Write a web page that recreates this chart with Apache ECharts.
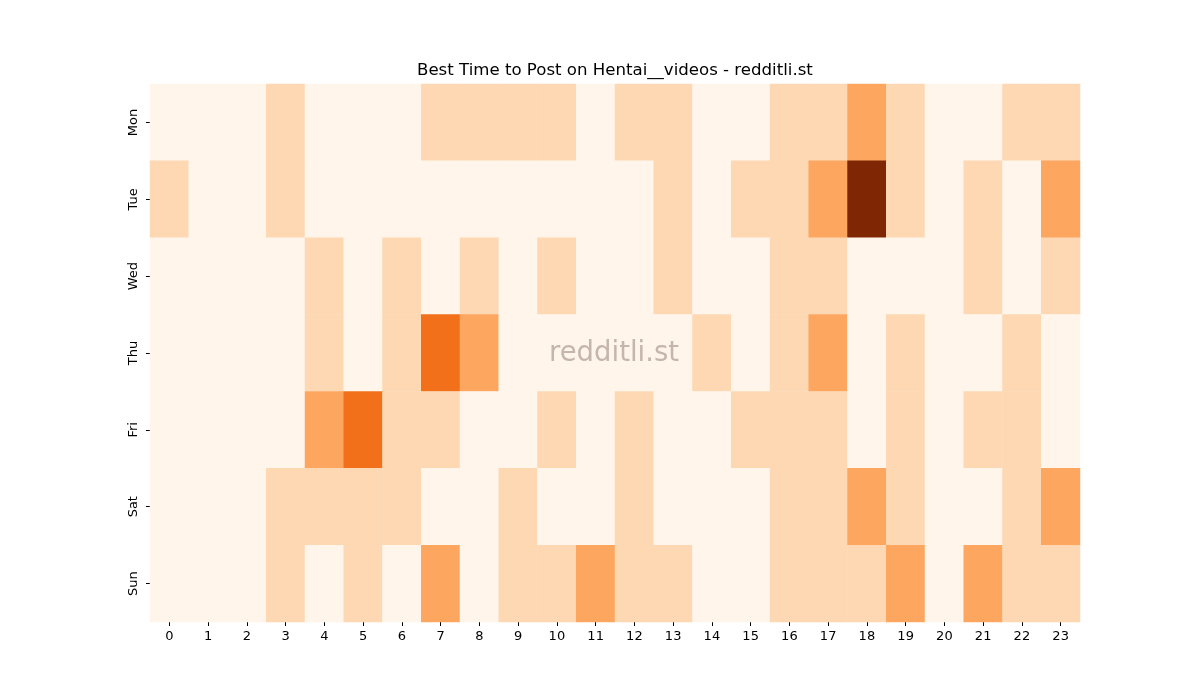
<!DOCTYPE html>
<html>
<head>
<meta charset="utf-8">
<script src="https://cdn.jsdelivr.net/npm/echarts@6/dist/echarts.min.js"></script>
<style>html,body{margin:0;padding:0;background:#fff}#c{width:1200px;height:700px}</style>
</head>
<body>
<div id="c"></div>
<script>
const hours = ['0','1','2','3','4','5','6','7','8','9','10','11','12','13','14','15','16','17','18','19','20','21','22','23'];
const days = ['Mon','Tue','Wed','Thu','Fri','Sat','Sun'];
const mon = [0,0,0,1,0,0,0,1,1,1,1,0,1,1,0,0,1,1,2,1,0,0,1,1];
const tue = [1,0,0,1,0,0,0,0,0,0,0,0,0,1,0,1,1,2,4,1,0,1,0,2];
const wed = [0,0,0,0,1,0,1,0,1,0,1,0,0,1,0,0,1,1,0,0,0,1,0,1];
const thu = [0,0,0,0,1,0,1,3,2,0,0,0,0,0,1,0,1,2,0,1,0,0,1,0];
const fri = [0,0,0,0,2,3,1,1,0,0,1,0,1,0,0,1,1,1,0,1,0,1,1,0];
const sat = [0,0,0,1,1,1,1,0,0,1,0,0,1,0,0,0,1,1,2,1,0,0,1,2];
const sun = [0,0,0,1,0,1,0,2,0,1,1,2,1,1,0,0,1,1,1,2,0,2,1,1];
const rows = [mon, tue, wed, thu, fri, sat, sun];
const levelColors = ['#fff5eb', '#fdd8b3', '#fda660', '#f3701b', '#7f2704'];

const data = [];
rows.forEach((r, yi) => r.forEach((v, xi) => data.push([xi, yi, v])));

const font = 'DejaVu Sans';
const chart = echarts.init(document.getElementById('c'), null, {renderer: 'canvas'});
chart.setOption({
  animation: false,
  backgroundColor: '#fff',
  title: {
    text: 'Best Time to Post on Hentai__videos - redditli.st',
    left: 412, top: 57,
    textStyle: {fontFamily: font, fontSize: 16.6, fontWeight: 'normal', color: '#000'}
  },
  grid: {left: 150, right: 120, top: 84, bottom: 78},
  xAxis: {
    type: 'category', data: hours,
    axisLine: {show: false},
    axisTick: {show: true, alignWithLabel: true, length: 4, lineStyle: {color: '#000'}},
    axisLabel: {fontFamily: font, fontSize: 13, color: '#000', margin: 8},
    splitLine: {show: false}
  },
  yAxis: {
    type: 'category', data: days, inverse: true,
    axisLine: {show: false},
    axisTick: {show: true, alignWithLabel: true, length: 4, lineStyle: {color: '#000'}},
    axisLabel: {fontFamily: font, fontSize: 13, color: '#000', rotate: 90, margin: 10},
    splitLine: {show: false}
  },
  visualMap: {
    show: false, type: 'piecewise', dimension: 2,
    pieces: levelColors.map((c, i) => ({value: i, color: c}))
  },
  graphic: [{
    type: 'text', left: 549, top: 340, z: 100, zlevel: 1,
    style: {text: 'redditli.st', fontFamily: font, fontSize: 27.5, fill: 'rgba(150,130,120,0.55)'}
  }],
  series: [{
    type: 'heatmap', data: data,
    itemStyle: {borderWidth: 0},
    emphasis: {disabled: true}
  }]
});
</script>
</body>
</html>
